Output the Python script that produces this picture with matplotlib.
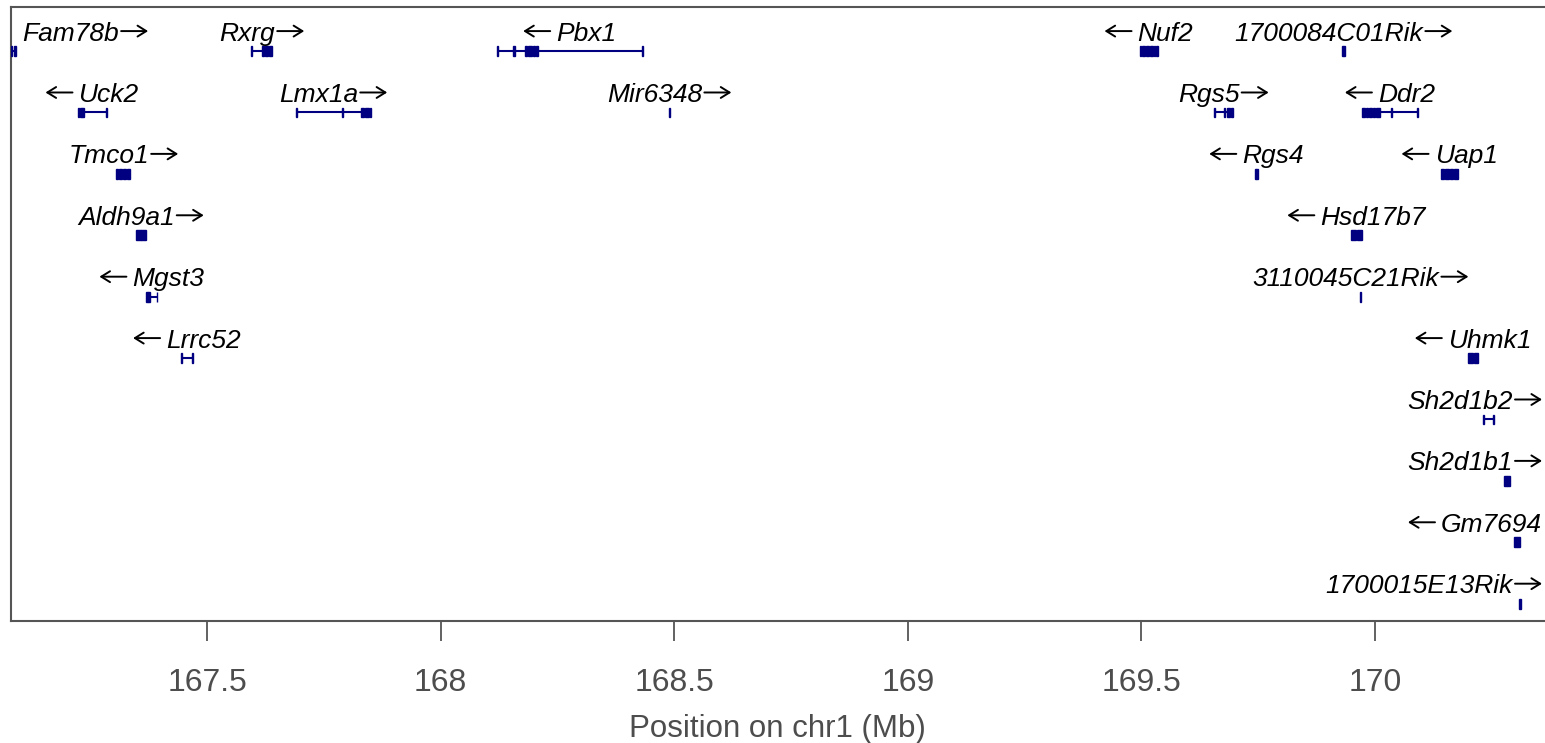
import matplotlib
matplotlib.use("Agg")
import matplotlib.pyplot as plt
from matplotlib.patches import Rectangle

# gene table (positions in Mb on chr1)
gene_names = ["Fam78b", "Rxrg", "Pbx1", "Nuf2", "1700084C01Rik",
              "Uck2", "Lmx1a", "Mir6348", "Rgs5", "Ddr2",
              "Tmco1", "Rgs4", "Uap1",
              "Aldh9a1", "Hsd17b7",
              "Mgst3", "3110045C21Rik",
              "Lrrc52", "Uhmk1",
              "Sh2d1b2", "Sh2d1b1", "Gm7694", "1700015E13Rik"]
gene_start = [167.080, 167.595, 168.120, 169.497, 169.930,
              167.223, 167.690, 168.489, 169.655, 169.972,
              167.306, 169.743, 170.141,
              167.347, 169.949,
              167.370, 169.968,
              167.445, 170.199,
              170.231, 170.276, 170.298, 170.309]
gene_end = [167.092, 167.640, 168.433, 169.535, 169.935,
            167.285, 167.850, 168.490, 169.696, 170.092,
            167.336, 169.750, 170.178,
            167.370, 169.972,
            167.394, 169.970,
            167.469, 170.221,
            170.255, 170.288, 170.310, 170.312]
gene_strand = ["+", "+", "-", "-", "+",
               "-", "+", "+", "+", "-",
               "+", "-", "-",
               "+", "-",
               "-", "+",
               "-", "-",
               "+", "+", "-", "+"]
gene_row = [1, 1, 1, 1, 1,
            2, 2, 2, 2, 2,
            3, 3, 3,
            4, 4,
            5, 5,
            6, 6,
            7, 8, 9, 10]
gene_exons = [
    [(167.080, 167.083), (167.086, 167.092)],
    [(167.595, 167.597), (167.617, 167.622), (167.625, 167.631), (167.633, 167.640)],
    [(168.120, 168.122), (168.154, 168.159), (168.180, 168.186), (168.188, 168.195),
     (168.198, 168.202), (168.205, 168.208), (168.431, 168.433)],
    [(169.497, 169.500), (169.502, 169.508), (169.510, 169.516),
     (169.518, 169.524), (169.526, 169.530), (169.532, 169.535)],
    [(169.930, 169.935)],
    [(167.223, 167.226), (167.228, 167.232), (167.233, 167.237), (167.283, 167.285)],
    [(167.690, 167.692), (167.790, 167.792), (167.830, 167.836),
     (167.838, 167.846), (167.848, 167.850)],
    [(168.489, 168.490)],
    [(169.655, 169.657), (169.677, 169.680), (169.684, 169.690), (169.692, 169.696)],
    [(169.972, 169.978), (169.980, 169.985), (169.987, 169.993), (169.995, 170.000),
     (170.002, 170.010), (170.035, 170.037), (170.090, 170.092)],
    [(167.306, 167.310), (167.312, 167.318), (167.320, 167.326), (167.328, 167.336)],
    [(169.743, 169.745), (169.746, 169.750)],
    [(170.141, 170.148), (170.150, 170.158), (170.160, 170.168), (170.170, 170.178)],
    [(167.347, 167.358), (167.359, 167.370)],
    [(169.949, 169.960), (169.961, 169.972)],
    [(167.370, 167.373), (167.374, 167.379), (167.392, 167.394)],
    [(169.968, 169.970)],
    [(167.445, 167.447), (167.467, 167.469)],
    [(170.199, 170.210), (170.211, 170.221)],
    [(170.231, 170.234), (170.252, 170.255)],
    [(170.276, 170.282), (170.283, 170.288)],
    [(170.298, 170.304), (170.305, 170.310)],
    [(170.309, 170.312)],
]

xticks = [167.5, 168, 168.5, 169, 169.5, 170]
xtick_labels = ["167.5", "168", "168.5", "169", "169.5", "170"]

gene_col = "#000080"
axis_col = "#555555"
text_gray = "#4d4d4d"
fnt = ["Liberation Sans", "DejaVu Sans"]

fig = plt.figure(figsize=(15.45, 7.43), dpi=100)
ax = fig.add_axes([10.5 / 1545, 1 - 621 / 743, 1 - 10.5 / 1545, 614 / 743])
ax.set_xlim(167.0794, 170.3639)
ax.set_ylim(10.283, 0.283)

exon_h = 0.16
labels = []
for i, name in enumerate(gene_names):
    y = gene_row[i]
    ax.plot([gene_start[i], gene_end[i]], [y, y], color=gene_col, lw=1.5,
            solid_capstyle="butt", zorder=2)
    for s, e in gene_exons[i]:
        ax.add_patch(Rectangle((s, y - exon_h / 2), e - s, exon_h,
                               facecolor=gene_col, edgecolor=gene_col,
                               lw=1.0, zorder=3))
    xc = (gene_start[i] + gene_end[i]) / 2
    tn = ax.text(xc, y - 0.17, name, ha="left", va="baseline",
                 fontsize=19, style="italic", family=fnt, color="black")
    labels.append((tn, gene_strand[i], xc, y - 0.17))

# lay out name + strand arrow, centred on the gene, kept inside the panel
fig.canvas.draw()
r = fig.canvas.get_renderer()
abox = ax.get_window_extent(r)
inv = ax.transData.inverted()
arrow_len = 27
arrow_rise = 9.5
for tn, strand, xc, yb in labels:
    wn = tn.get_window_extent(r).width
    gap = 2 if strand == "+" else 6
    total = wn + arrow_len + gap
    cx, cy = ax.transData.transform((xc, yb))
    left = cx - total / 2
    if left < abox.x0 + 12:
        left = abox.x0 + 12
    elif left + total > abox.x1 - 3:
        left = abox.x1 - 3 - total
    if strand == "+":
        xn = left
        a0, a1 = left + wn + gap, left + total
    else:
        xn = left + arrow_len + gap
        a0, a1 = left + arrow_len, left
    tn.set_x(inv.transform((xn, cy))[0])
    p0 = inv.transform((a0, cy + arrow_rise))
    p1 = inv.transform((a1, cy + arrow_rise))
    ax.annotate("", xy=p1, xytext=p0, xycoords="data", textcoords="data",
                annotation_clip=False,
                arrowprops=dict(arrowstyle="->,head_length=0.45,head_width=0.28",
                                mutation_scale=14, lw=1.4, color="black",
                                shrinkA=0, shrinkB=0))

ax.spines["right"].set_visible(False)
for side in ["left", "top", "bottom"]:
    ax.spines[side].set_color(axis_col)
    ax.spines[side].set_linewidth(1.5)

ax.set_yticks([])
ax.set_xticks(xticks)
ax.set_xticklabels(xtick_labels, family=fnt, fontsize=23, color=text_gray)
ax.tick_params(axis="x", direction="out", length=14.5, width=1.3,
               color=axis_col, pad=19)
fig.text((10.5 + 1545) / 2 / 1545, 1 - 737 / 743, "Position on chr1 (Mb)",
         ha="center", va="baseline", family=fnt, fontsize=22.5, color=text_gray)

fig.savefig("out.png", dpi=100)
